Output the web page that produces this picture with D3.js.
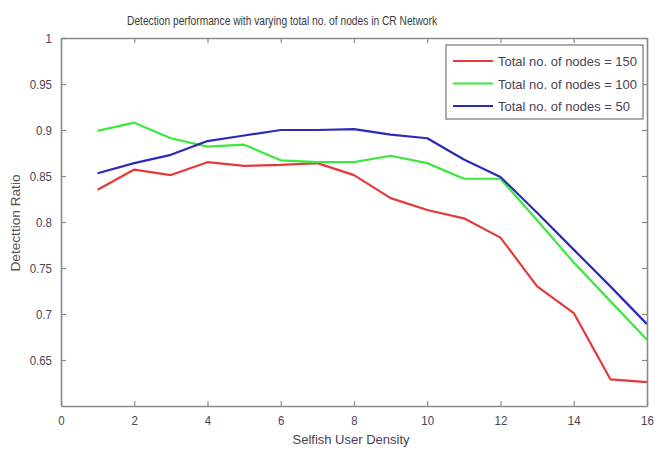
<!DOCTYPE html>
<html>
<head>
<meta charset="utf-8">
<script src="https://cdn.jsdelivr.net/npm/d3@7"></script>
<style>
  html, body { margin: 0; padding: 0; background: #fff; }
  svg { display: block; }
  text { font-family: "Liberation Sans Narrow", "Arial Narrow", "Liberation Sans", Arial, sans-serif; }
</style>
</head>
<body>
<svg id="chart" width="655" height="451"></svg>
<script>
// Selfish user density on the x axis
const density = [1, 2, 3, 4, 5, 6, 7, 8, 9, 10, 11, 12, 13, 14, 15, 16];

// Detection ratio for each network size
const nodes150 = [0.835, 0.857, 0.851, 0.865, 0.861, 0.862, 0.864, 0.851, 0.826, 0.813, 0.804, 0.783, 0.730, 0.701, 0.629, 0.626];
const nodes100 = [0.899, 0.908, 0.891, 0.882, 0.884, 0.867, 0.865, 0.865, 0.872, 0.864, 0.847, 0.847, 0.802, 0.756, 0.714, 0.672];
const nodes50  = [0.853, 0.864, 0.873, 0.888, 0.894, 0.900, 0.900, 0.901, 0.895, 0.891, 0.868, 0.849, 0.810, 0.770, 0.730, 0.689];

const seriesNames = ["Total no. of nodes = 150", "Total no. of nodes = 100", "Total no. of nodes = 50"];
const seriesColors = ["#e5393b", "#3ce83c", "#2b2bbb"];

const xTicks = [0, 2, 4, 6, 8, 10, 12, 14, 16];
const yTicks = [0.65, 0.7, 0.75, 0.8, 0.85, 0.9, 0.95, 1];

const titleText = "Detection performance with varying total no. of nodes in CR Network";
const xLabel = "Selfish User Density";
const yLabel = "Detecttion Ratio";

const svg = d3.select("#chart");
const margin = { left: 61, right: 8, top: 38, bottom: 45 };
const W = 655, H = 451;
const plotW = W - margin.left - margin.right;
const plotH = H - margin.top - margin.bottom;

const x = d3.scaleLinear().domain([0, 16]).range([margin.left, margin.left + plotW]);
const y = d3.scaleLinear().domain([0.6, 1]).range([margin.top + plotH, margin.top]);

const axisColor = "#8a8a8a";
const labelColor = "#4a4258";

// Condense a text element horizontally to mimic a narrow face
function condense(sel, ratio) {
  sel.each(function () {
    const w = this.getComputedTextLength();
    d3.select(this).attr("textLength", w * ratio).attr("lengthAdjust", "spacingAndGlyphs");
  });
}

// Plot lines
const allSeries = [nodes150, nodes100, nodes50];
const line = d3.line().x((d, i) => x(density[i])).y(d => y(d));
allSeries.forEach((vals, k) => {
  svg.append("path")
    .datum(vals)
    .attr("fill", "none")
    .attr("stroke", seriesColors[k])
    .attr("stroke-width", 2.2)
    .attr("stroke-linejoin", "round")
    .attr("d", line);
});

// Axes with inward ticks on all four sides
function styleAxis(g) {
  g.select(".domain").attr("stroke", axisColor).attr("stroke-width", 1.6);
  g.selectAll(".tick line").attr("stroke", axisColor).attr("stroke-width", 1.2);
  g.selectAll(".tick text").attr("fill", labelColor).attr("font-size", 13.5).call(condense, 0.85);
}
const axisBottomG = svg.append("g").attr("transform", `translate(0,${margin.top + plotH})`)
  .call(d3.axisBottom(x).tickValues(xTicks).tickSize(-5).tickSizeOuter(0).tickPadding(9).tickFormat(d3.format("d")));
styleAxis(axisBottomG);
const axisTopG = svg.append("g").attr("transform", `translate(0,${margin.top})`)
  .call(d3.axisTop(x).tickValues(xTicks).tickSize(-5).tickSizeOuter(0).tickFormat(""));
styleAxis(axisTopG);
const axisLeftG = svg.append("g").attr("transform", `translate(${margin.left},0)`)
  .call(d3.axisLeft(y).tickValues(yTicks).tickSize(-5).tickSizeOuter(0).tickPadding(9).tickFormat(d => String(+d.toFixed(2))));
styleAxis(axisLeftG);
const axisRightG = svg.append("g").attr("transform", `translate(${margin.left + plotW},0)`)
  .call(d3.axisRight(y).tickValues(yTicks).tickSize(-5).tickSizeOuter(0).tickFormat(""));
styleAxis(axisRightG);

// Title and axis labels
svg.append("text").attr("x", 282).attr("y", 25).attr("text-anchor", "middle")
  .attr("font-size", 13.5).attr("fill", "#3a3a3a").attr("textLength", 310)
  .attr("lengthAdjust", "spacingAndGlyphs").text(titleText);
svg.append("text").attr("x", 351).attr("y", 444).attr("text-anchor", "middle")
  .attr("font-size", 13.5).attr("fill", labelColor).attr("textLength", 117)
  .attr("lengthAdjust", "spacingAndGlyphs").text(xLabel);
svg.append("text").attr("transform", `translate(20,223) rotate(-90)`).attr("text-anchor", "middle")
  .attr("font-size", 13.5).attr("fill", "#555").attr("textLength", 97)
  .attr("lengthAdjust", "spacingAndGlyphs").text(yLabel);

// Legend
const lg = svg.append("g").attr("transform", "translate(446,45)");
lg.append("rect").attr("width", 197).attr("height", 74)
  .attr("fill", "#fff").attr("stroke", axisColor).attr("stroke-width", 1.4);
const legendWidths = [139, 139, 132];
seriesNames.forEach((name, k) => {
  const ry = 16 + k * 22.5;
  lg.append("line").attr("x1", 7).attr("x2", 47).attr("y1", ry).attr("y2", ry)
    .attr("stroke", seriesColors[k]).attr("stroke-width", 2.2);
  lg.append("text").attr("x", 52).attr("y", ry + 5).attr("font-size", 13.5)
    .attr("fill", labelColor).attr("textLength", legendWidths[k])
    .attr("lengthAdjust", "spacingAndGlyphs").text(name);
});
</script>
</body>
</html>
